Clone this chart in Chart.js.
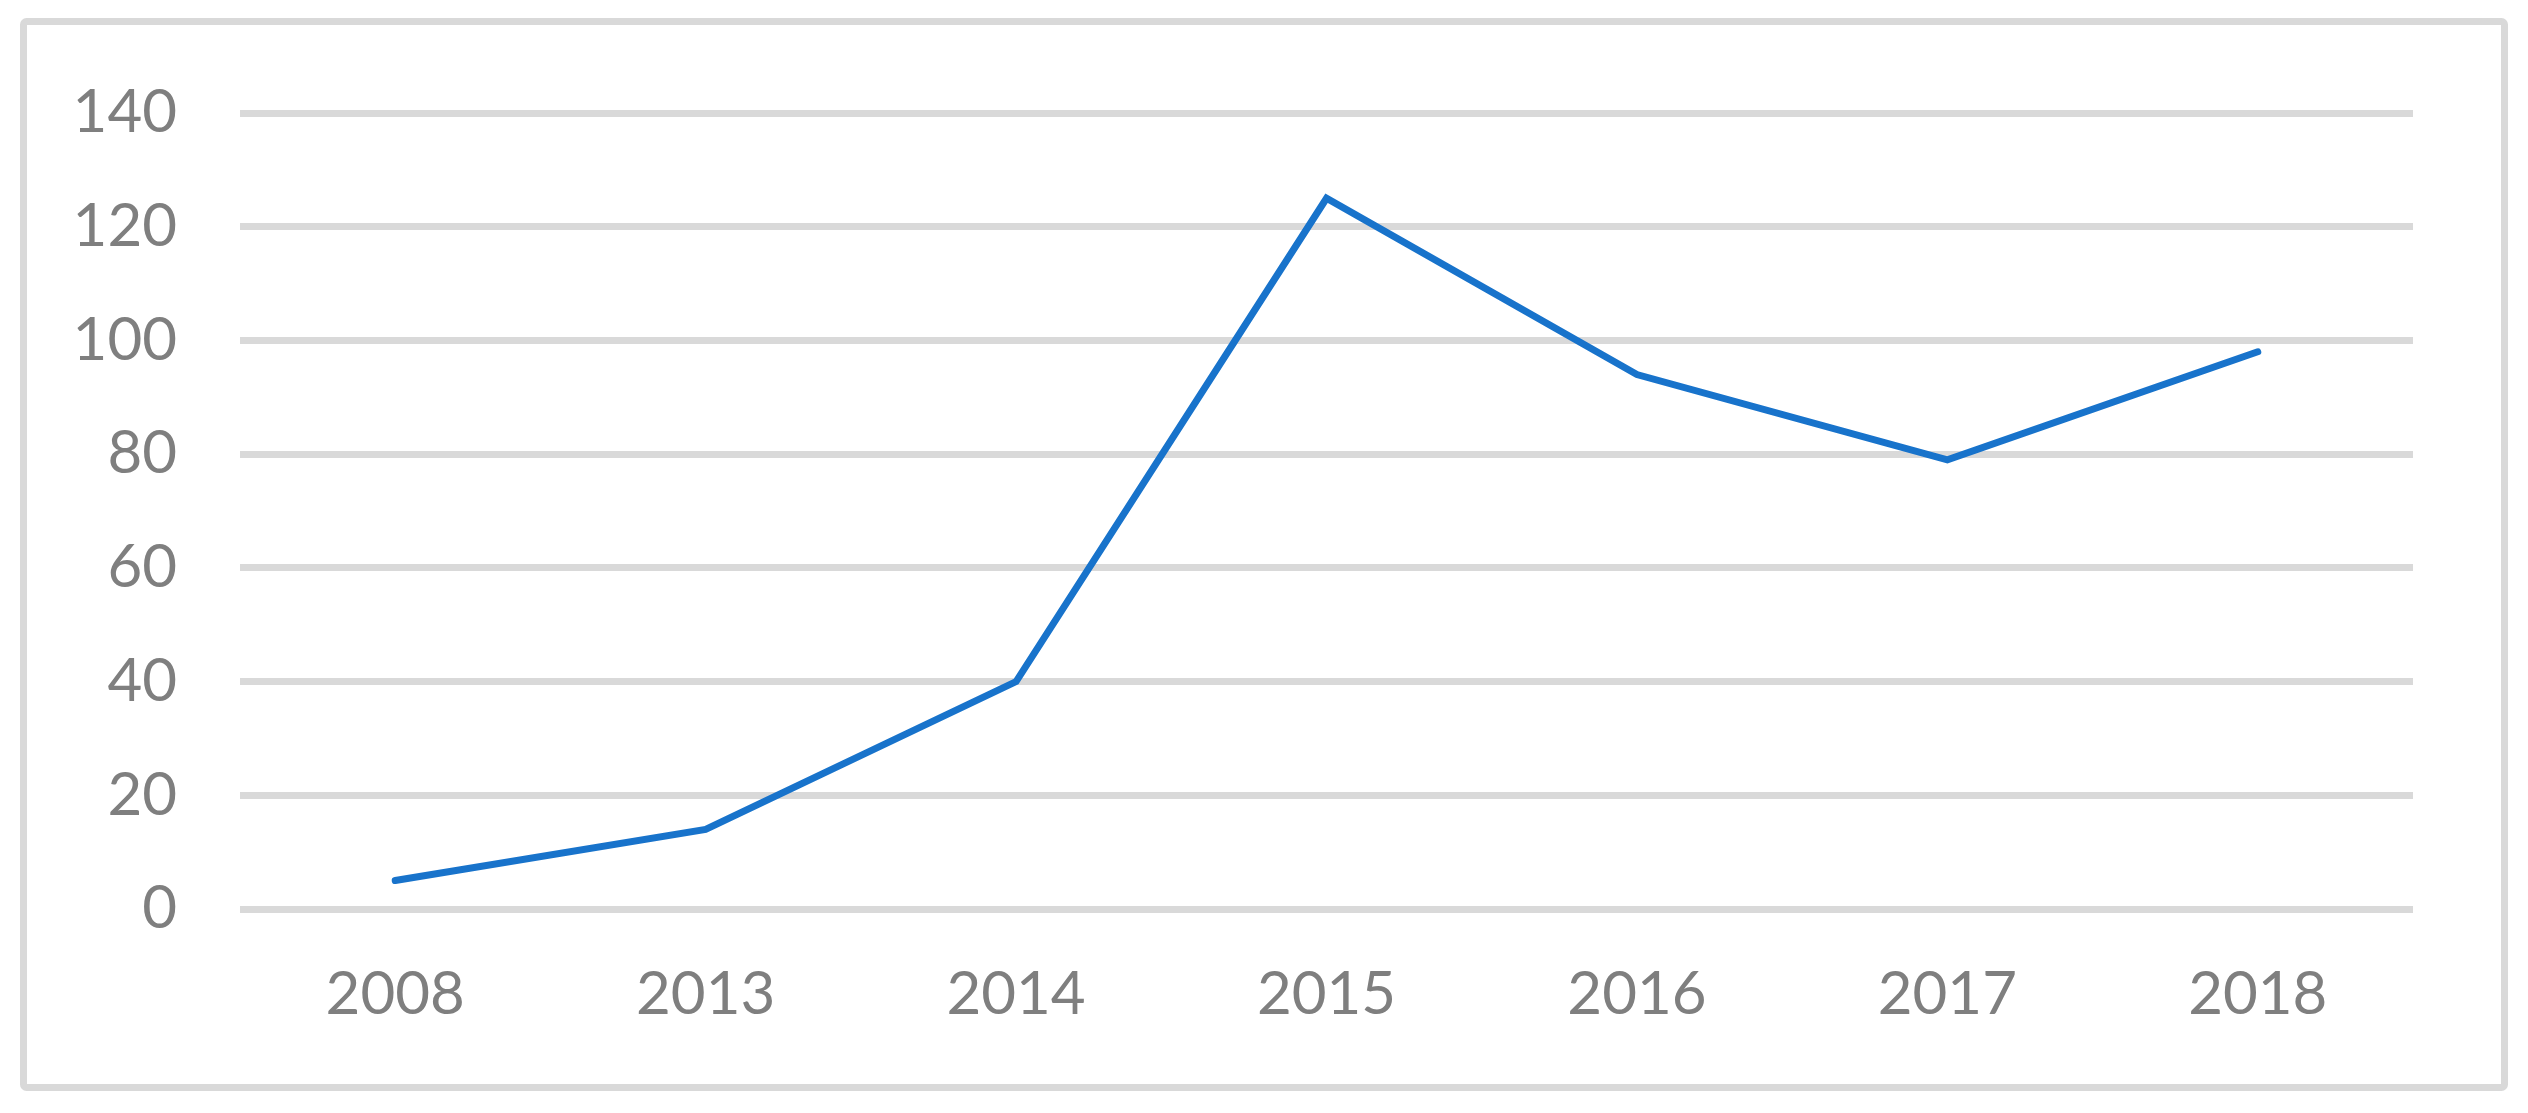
<!DOCTYPE html>
<html>
<head>
<meta charset="utf-8">
<style>
    html, body { margin: 0; padding: 0; background: #ffffff; }
    canvas { display: block; }
</style>
</head>
<body>
<canvas id="trend" width="2528" height="1113"></canvas>
<script src="https://cdn.jsdelivr.net/npm/chart.js"></script>
<script>
    //chart values
    const years = ['2008', '2013', '2014', '2015', '2016', '2017', '2018'];
    const counts = [5, 14, 40, 125, 94, 79, 98];
    const yTicks = [0, 20, 40, 60, 80, 100, 120, 140];

    const gridGrey = '#d9d9d9';
    const labelGrey = '#7f7f7f';

    //outer frame round the whole picture
    const framePlugin = {
        id: 'frame',
        beforeDraw(chart) {
            const ctx = chart.ctx;
            ctx.save();
            ctx.fillStyle = '#ffffff';
            ctx.fillRect(0, 0, chart.width, chart.height);
            ctx.strokeStyle = gridGrey;
            ctx.lineWidth = 7;
            ctx.beginPath();
            ctx.roundRect(23.5, 21.5, 2481, 1066, 3);
            ctx.stroke();
            ctx.restore();
        }
    };

    const trend = document.getElementById('trend');
    new Chart(trend, {
        type: 'line',
        data: {
            labels: years,
            datasets: [{
                data: counts,
                borderColor: '#1873cb',
                borderWidth: 7,
                borderCapStyle: 'round',
                borderJoinStyle: 'miter',
                pointRadius: 0,
                tension: 0,
                fill: false
            }]
        },
        options: {
            responsive: false,
            animation: false,
            devicePixelRatio: 1,
            layout: {
                padding: { left: 0, right: 115, top: 113, bottom: 0 }
            },
            plugins: {
                legend: { display: false },
                tooltip: { enabled: false }
            },
            scales: {
                x: {
                    offset: true,
                    grid: { display: false, drawTicks: false },
                    border: { display: false },
                    ticks: {
                        color: labelGrey,
                        padding: 50,
                        maxRotation: 0,
                        font: { family: 'Lato', size: 60 }
                    },
                    afterFit: (scale) => { scale.height = 204; }
                },
                y: {
                    min: 0,
                    max: 140,
                    afterBuildTicks: (scale) => { scale.ticks = yTicks.map(v => ({ value: v })); },
                    grid: { color: gridGrey, lineWidth: 7, drawTicks: false },
                    border: { display: false },
                    ticks: {
                        color: labelGrey,
                        padding: 63,
                        font: { family: 'Lato', size: 60 }
                    },
                    afterFit: (scale) => { scale.width = 240; }
                }
            }
        },
        plugins: [framePlugin]
    });
</script>
</body>
</html>
